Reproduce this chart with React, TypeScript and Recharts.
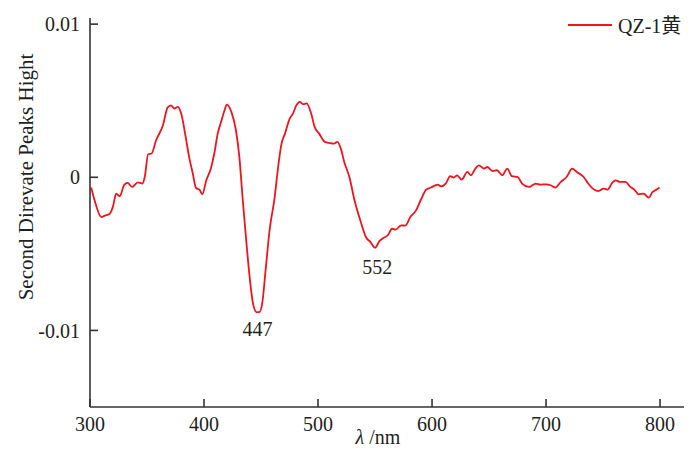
import { LineChart, Line, XAxis, YAxis, ReferenceDot } from "recharts";

// wavelength (nm)
const wavelengths = [
  301, 304, 310, 313, 317, 320, 323, 326, 330, 333, 337, 342, 346, 348, 351, 354, 358, 364, 368, 371,
  374, 377, 380, 384, 387, 390, 393, 396, 398.5, 402, 406, 409, 412, 415, 418, 420, 424, 428, 431, 434,
  437, 440, 443, 446, 448.5, 451, 454, 457.5, 462, 465, 468, 471, 475, 478, 481, 484, 487, 490, 494, 497,
  501, 506, 510, 514, 517, 520, 523, 527.5, 532, 538, 542, 546, 550, 554, 558, 561, 565, 568, 573, 576.5,
  581, 586, 590, 595, 599, 605, 608, 612, 616, 619, 622, 626, 631, 634, 638, 641, 645.6, 648.5, 653, 657,
  661.6, 666, 670, 675, 679, 685, 691, 695, 700, 704, 708, 713, 718, 723, 727, 733, 737, 742, 746, 750.5,
  754, 758, 761, 765, 769.5, 774, 778, 781, 785.6, 790, 793.5, 797, 799.5,
];

// second derivative, in units of 1e-3
const qz1Values = [
  -0.67, -1.5, -2.6, -2.5, -2.4, -1.95, -1.07, -1.24, -0.5, -0.37, -0.63, -0.33, -0.41, 0.02, 1.5, 1.55, 2.42, 3.4, 4.55, 4.7,
  4.49, 4.6, 4.16, 2.6, 1.3, 0.3, -0.7, -0.81, -1.11, -0.2, 0.57, 1.55, 2.85, 3.62, 4.38, 4.75, 4.27, 3.07, 1.33, -1.5,
  -4.1, -6.5, -8.25, -8.8, -8.8, -8.25, -6.08, -3.46, -1.29, 0.67, 2.2, 2.85, 3.8, 4.16, 4.7, 4.92, 4.77, 4.82, 4.16, 3.29,
  2.85, 2.31, 2.24, 2.2, 2.31, 1.87, 1.0, 0.02, -1.5, -3.03, -3.9, -4.23, -4.6, -4.15, -3.94, -3.8, -3.36, -3.42, -3.14, -3.16,
  -2.59, -2.16, -1.5, -0.8, -0.67, -0.48, -0.59, -0.41, 0.07, -0.02, 0.13, -0.15, 0.35, 0.13, 0.57, 0.78, 0.57, 0.67, 0.41, 0.46,
  0.13, 0.57, 0.07, 0.02, -0.41, -0.63, -0.41, -0.48, -0.46, -0.52, -0.67, -0.3, 0.02, 0.57, 0.35, 0.02, -0.41, -0.8, -0.9, -0.74,
  -0.8, -0.37, -0.2, -0.3, -0.3, -0.63, -0.85, -1.11, -1.07, -1.33, -0.96, -0.8, -0.67,
];

const xTicks = [300, 400, 500, 600, 700, 800];
const yTicks = [-10, 0, 10];

const peakLabels = [
  { x: 447, y: -9.87, text: "447" },
  { x: 552, y: -5.82, text: "552" },
];

const data = wavelengths.map((w, i) => ({ w, v: qz1Values[i] }));

const FONT = "'Liberation Serif', 'Times New Roman', serif";
const AXIS = "#333333";
const TEXT = "#231f20";
const RED = "#f0141e";

export default function App() {
  return (
    <div style={{ position: "absolute", left: 0, top: 0, width: 700, height: 461, background: "#fff", fontFamily: FONT }}>
      <LineChart
        width={700}
        height={461}
        data={data}
        margin={{ top: 18, right: 16, bottom: 0, left: 0 }}
      >
        <XAxis
          dataKey="w"
          type="number"
          domain={[300, 821]}
          ticks={xTicks}
          allowDataOverflow
          height={54}
          stroke={AXIS}
          strokeWidth={1.6}
          tickSize={-8}
          tickMargin={18}
          tick={{ fill: TEXT, fontSize: 20, fontFamily: FONT }}
          label={{
            content: () => (
              <text x={378} y={444} textAnchor="middle" fill={TEXT} fontSize={20} fontFamily={FONT}>
                <tspan fontStyle="italic">λ</tspan>
                <tspan> /nm</tspan>
              </text>
            ),
          }}
        />
        <YAxis
          type="number"
          domain={[-15, 10.4]}
          ticks={yTicks}
          allowDataOverflow
          width={90}
          stroke={AXIS}
          strokeWidth={1.6}
          tickSize={-8}
          tickMargin={18}
          tickFormatter={(v: number) => String(v / 1000)}
          tick={{ fill: TEXT, fontSize: 20, fontFamily: FONT }}
          label={{
            content: () => (
              <text
                x={33}
                y={177}
                textAnchor="middle"
                fill={TEXT}
                fontSize={21}
                fontFamily={FONT}
                transform="rotate(-90 33 177)"
              >
                Second Direvate Peaks Hight
              </text>
            ),
          }}
        />
        <Line
          type="monotone"
          dataKey="v"
          stroke={RED}
          strokeWidth={1.8}
          dot={false}
          isAnimationActive={false}
        />
        {peakLabels.map((p) => (
          <ReferenceDot
            key={p.text}
            x={p.x}
            y={p.y}
            r={0}
            fill="none"
            stroke="none"
            label={{ value: p.text, position: "center", fill: TEXT, fontSize: 20, fontFamily: FONT }}
          />
        ))}
      </LineChart>
      <div style={{ position: "absolute", left: 568, top: 10, display: "flex", alignItems: "center" }}>
        <svg width={46} height={28}>
          <line x1={0} y1={14} x2={44} y2={14} stroke={RED} strokeWidth={1.8} />
        </svg>
        <span style={{ fontSize: 20, color: TEXT, fontFamily: FONT, marginLeft: 4 }}>
          QZ-1<span style={{ fontFamily: "'Noto Sans CJK SC', serif" }}>黄</span>
        </span>
      </div>
    </div>
  );
}
